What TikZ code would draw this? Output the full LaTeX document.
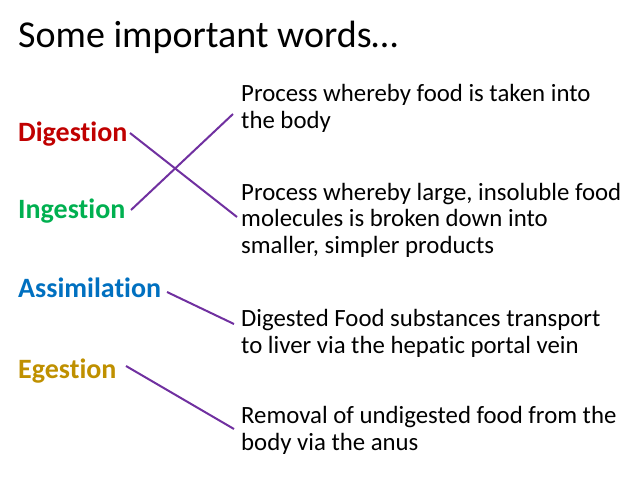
\documentclass[tikz,border=0pt]{standalone}
\usepackage{fontspec}
\setmainfont{Carlito}[Ligatures={NoCommon}]
\definecolor{digred}{HTML}{C00000}
\definecolor{inggreen}{HTML}{00B050}
\definecolor{assblue}{HTML}{0070C0}
\definecolor{egegold}{HTML}{BF9000}
\definecolor{linkpurple}{HTML}{7030A0}
\tikzset{
  titletext/.style={anchor=base west, inner sep=0pt, font=\fontsize{38}{44}\selectfont},
  termtext/.style={anchor=base west, inner sep=0pt, font=\fontsize{28}{30}\selectfont\bfseries},
  deftext/.style={anchor=base west, inner sep=0pt, align=left, font=\fontsize{24.8}{26.5}\selectfont},
  link/.style={draw=linkpurple, line width=2pt}
}
\begin{document}
\begin{tikzpicture}[x=1pt,y=-1pt]
\useasboundingbox (0,0) rectangle (638,479);
\node[titletext] (title) at (18,47) {Some important words…};
\node[termtext, text=digred] (dig) at (18,141) {Digestion};
\node[termtext, text=inggreen] (ing) at (18,218) {Ingestion};
\node[termtext, text=assblue] (ass) at (18,297) {Assimilation};
\node[termtext, text=egegold] (ege) at (18,378) {Egestion};
\node[deftext] (d1) at (241,128) {Process whereby food is taken into\\the body};
\node[deftext] (d2) at (241,253) {Process whereby large, insoluble food\\molecules is broken down into\\smaller, simpler products};
\node[deftext] (d3) at (241,353) {Digested Food substances transport\\to liver via the hepatic portal vein};
\node[deftext] (d4) at (241,450) {Removal of undigested food from the\\body via the anus};
\coordinate (digS) at (130,133);
\coordinate (digE) at (237,217);
\coordinate (ingS) at (131,210);
\coordinate (ingE) at (233,114);
\coordinate (assS) at (167,292);
\coordinate (assE) at (234,324);
\coordinate (egeS) at (126,366);
\coordinate (egeE) at (234,429);
\draw[link] (digS) -- (digE);
\draw[link] (ingS) -- (ingE);
\draw[link] (assS) -- (assE);
\draw[link] (egeS) -- (egeE);
\end{tikzpicture}
\end{document}
